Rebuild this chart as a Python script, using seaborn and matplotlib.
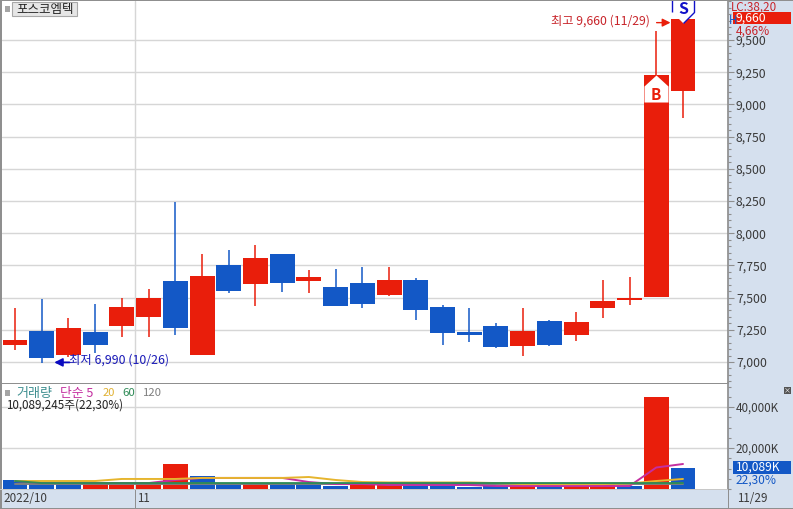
import matplotlib
matplotlib.use("Agg")
import matplotlib.pyplot as plt
from matplotlib.patches import Rectangle
from matplotlib.ticker import FixedLocator, FuncFormatter, MultipleLocator
import numpy as np
import seaborn as sns

W, H = 793, 509

# daily prices
opens = [7130, 7240, 7055, 7235, 7280, 7350, 7630, 7055, 7755, 7605, 7840, 7630, 7580,
         7615, 7520, 7635, 7425, 7235, 7280, 7125, 7320, 7210, 7420, 7480, 7505, 9105]
highs = [7420, 7490, 7340, 7450, 7495, 7565, 8240, 7840, 7870, 7910, 7840, 7715, 7720,
         7735, 7735, 7650, 7440, 7420, 7300, 7420, 7330, 7390, 7635, 7660, 9570, 9660]
lows = [7090, 6990, 7040, 7070, 7195, 7195, 7210, 7055, 7535, 7435, 7545, 7535, 7435,
        7420, 7510, 7325, 7130, 7155, 7110, 7045, 7125, 7165, 7340, 7440, 7505, 8895]
closes = [7170, 7030, 7265, 7130, 7425, 7495, 7265, 7670, 7550, 7805, 7615, 7660, 7435,
          7450, 7635, 7405, 7225, 7210, 7115, 7240, 7130, 7310, 7475, 7495, 9230, 9660]

# volume in thousands of shares
volumes = [4400, 2900, 2900, 2900, 2000, 2400, 12200, 6300, 2500, 2400, 2400, 2400, 1500,
           2000, 2400, 1500, 1500, 1000, 1500, 1500, 1500, 1500, 2000, 1500, 44900, 10089]
volume_up = [0, 0, 0, 1, 1, 1, 1, 0, 0, 1, 0, 0, 0, 1, 1, 0, 0, 0, 0, 1, 0, 1, 1, 0, 1, 0]

ma5 = [3900, 2900, 2900, 2900, 2900, 2900, 4400, 5400, 5400, 5400, 5400, 3400, 2400,
       2400, 1950, 1950, 1950, 1950, 1460, 1460, 1460, 1460, 1460, 1460, 10500, 12200]
ma20 = [3900, 3900, 3900, 3900, 4900, 4900, 4900, 5400, 5400, 5400, 5400, 5850, 4400,
        3400, 3200, 3200, 3200, 3200, 2900, 2400, 2400, 2400, 2400, 2700, 3900, 4900]
ma60 = [3900, 2900, 2900, 2900, 2900, 2900, 2900, 2900, 2900, 2900, 2900, 2900, 2900,
        2900, 2900, 2900, 2900, 2900, 2900, 2900, 2900, 2900, 2900, 2900, 2900, 2900]
ma120 = [2500, 2500, 2500, 2500, 2500, 2500, 2500, 2500, 2500, 2500, 2500, 2500, 2500,
         2500, 2500, 2500, 2500, 2500, 2500, 2500, 2500, 2500, 2500, 2500, 2500, 2500]

price_ticks = [7000, 7250, 7500, 7750, 8000, 8250, 8500, 8750, 9000, 9250, 9500]
volume_ticks = [20000, 40000]

RED = "#E91E0B"
BLUE = "#1358C6"
PANEL = "#D5E0EE"
BORDER = "#8F8F8F"
GRID = "#D6D6D6"
TICK_TEXT = "#3A3A3A"

sns.set_theme(style="white")
plt.rcParams["font.family"] = ["Noto Sans CJK KR", "DejaVu Sans"]


def frame(x0, y0, x1, y1):
    # pixel box (from the top left) to figure fractions
    return [x0 / W, 1 - y1 / H, (x1 - x0) / W, (y1 - y0) / H]


def label(x, y, s, color=TICK_TEXT, size=8.4, **kw):
    kw.setdefault("ha", "left")
    return fig.text(x / W, 1 - y / H, s, color=color, fontsize=size, va="center", **kw)


def box(x0, y0, x1, y1, color, z=-1):
    fig.add_artist(Rectangle((x0 / W, 1 - y1 / H), (x1 - x0) / W, (y1 - y0) / H,
                             transform=fig.transFigure, facecolor=color,
                             edgecolor="none", zorder=z))


def bars(ax, xs, heights, color, bottom=None):
    kw = {} if bottom is None else {"bottom": bottom}
    sns.barplot(x=xs, y=heights, ax=ax, native_scale=True, color=color, saturation=1,
                width=0.935, errorbar=None, linewidth=0, **kw)


fig = plt.figure(figsize=(W / 100, H / 100), dpi=100, facecolor="white")
box(728, 0, W, H, PANEL)
box(0, 489, W, H, PANEL)

ax = fig.add_axes(frame(2, 1, 728, 383))
vol = fig.add_axes(frame(2, 383, 728, 489))

idx = np.arange(len(opens))
o, c, hi, lo = map(np.array, (opens, closes, highs, lows))
up = c >= o

# candles
ax.vlines(idx[up], lo[up], hi[up], color=RED, lw=1.1, zorder=3)
ax.vlines(idx[~up], lo[~up], hi[~up], color=BLUE, lw=1.1, zorder=3)
bars(ax, idx[up], (c - o)[up], RED, bottom=o[up])
bars(ax, idx[~up], (o - c)[~up], BLUE, bottom=c[~up])
for p in ax.patches:
    p.set_zorder(4)

# volume bars and averages
v = np.array(volumes)
vup = np.array(volume_up, dtype=bool)
bars(vol, idx[vup], v[vup], RED)
bars(vol, idx[~vup], v[~vup], BLUE)
for p in vol.patches:
    p.set_zorder(3)
for series, col, z in [(ma120, "#7F7F7F", 5), (ma5, "#C42FA0", 6), (ma20, "#E6B52E", 7),
                       (ma60, "#2F8B57", 8)]:
    sns.lineplot(x=idx, y=series, ax=vol, color=col, lw=1.4, errorbar=None, zorder=z)

xlim = ((2 - 15) / 26.72, (728 - 15) / 26.72)
for a in (ax, vol):
    a.set_xlim(*xlim)
    a.set_xlabel("")
    a.set_ylabel("")
    a.set_xticks([])
    a.axvline(4.5, color=GRID, lw=1, zorder=1)
    a.yaxis.tick_right()
    a.grid(False)
    a.yaxis.grid(True, which="major", color=GRID, lw=1, zorder=0)
    a.set_axisbelow(True)
    for s in a.spines.values():
        s.set_visible(False)
    a.spines["right"].set_visible(True)
    a.spines["right"].set_color(BORDER)
    a.tick_params(axis="y", which="major", direction="out", length=4.5, width=0.8, color=BORDER,
                  labelsize=8.8, labelcolor=TICK_TEXT, pad=1.2, right=True)
    a.tick_params(axis="y", which="minor", direction="out", length=2.5, width=0.8, color=BORDER,
                  right=True)

ax.set_ylim(6837, 9803)
ax.yaxis.set_major_locator(FixedLocator(price_ticks))
ax.yaxis.set_minor_locator(MultipleLocator(50))
ax.yaxis.set_major_formatter(FuncFormatter(lambda x, _: f"{x:,.0f}"))

vol.set_ylim(0, 51728)
vol.yaxis.set_major_locator(FixedLocator(volume_ticks))
vol.yaxis.set_minor_locator(MultipleLocator(5000))
vol.yaxis.set_major_formatter(FuncFormatter(lambda x, _: f"{x / 1000:,.0f},000K"))
vol.tick_params(axis="y", which="major", labelsize=8.4)

# buy and sell flags, anchored on the last two candles
buy = [(0, 0), (12, -11), (12, -27), (-12, -27), (-12, -11)]
sell = [(0, -4), (11, 7), (11, 20), (-11, 20), (-11, 7)]
ax.plot([24], [closes[24]], marker=buy, ms=38.9, mfc="white", mec="white", mew=0, ls="", zorder=6)
ax.plot([25], [closes[25]], marker=sell, ms=28.8, mfc="white", mec="#1010C8", mew=1, ls="",
        zorder=6, clip_on=False)
ax.annotate("B", (24, closes[24]), xytext=(0, -14.5), textcoords="offset points", ha="center",
            va="center", color=RED, fontsize=11, fontweight="bold", zorder=7)
ax.annotate("S", (25, closes[25]), xytext=(0, 7.5), textcoords="offset points", ha="center",
            va="center", color="#1010C8", fontsize=11.5, fontweight="bold", zorder=7,
            annotation_clip=False)

# high and low callouts
ax.annotate("", (25, 9635), xytext=(-19, 0), textcoords="offset points", zorder=7,
            arrowprops=dict(arrowstyle="-|>", color=RED, lw=1, shrinkA=0, shrinkB=9,
                            mutation_scale=12))
ax.annotate("", (1, 6997), xytext=(20, 0), textcoords="offset points", zorder=7,
            arrowprops=dict(arrowstyle="-|>", color="#0A0AC0", lw=1.3, shrinkA=0, shrinkB=9,
                            mutation_scale=12))
label(551, 21, "최고 9,660 (11/29)", color="#C8242A", size=8.8)
label(69, 360, "최저 6,990 (10/26)", color="#1A1AB8", size=8.9)

# frame lines
box(0, 0, W, 1, BORDER, z=2)
box(0, 0, 2, H, BORDER, z=2)
box(0, 383, 728, 384, BORDER, z=2)
box(0, 489, 728, 490, "#C8C8C8", z=2)
box(0, 508, W, 509, BORDER, z=2)
box(728, 489, 729, H, BORDER, z=2)
box(135, 490, 136, 508, BORDER, z=2)

# header tags
box(5, 6, 10, 12, "#A5A5A5", z=2)
fig.add_artist(Rectangle((12 / W, 1 - 16 / H), 65 / W, 14 / H, transform=fig.transFigure,
                         facecolor="#E6E6E6", edgecolor="#A8A8A8", lw=0.8, zorder=2))
label(16, 9, "포스코엠텍", color="#222222", size=9)

box(5, 390, 10, 396, "#A5A5A5", z=2)
label(16, 393, "거래량", color="#3F8F90", size=9.4)
label(60, 393, "단순 5", color="#C42FA0", size=9.2)
label(103, 393, "20", color="#E0B030", size=8)
label(122, 393, "60", color="#2F8B57", size=8.2)
label(143, 393, "120", color="#7F7F7F", size=8.2)
label(6, 405, "10,089,245주(22,30%)", color="#222222")

# right side readouts
label(731, 7, "LC:38,20", color="#C8242A", size=8.4)
label(728.5, 20, "H", color=BLUE, size=8.4)
box(733, 12, 791, 24, RED, z=2)
label(736, 18, "9,660", color="white", size=8.8, zorder=4)
box(733, 25, 775, 36, PANEL, z=2)
label(736, 31, "4,66%", color="#C8242A", size=8.6, zorder=4)

box(733, 461, 791, 474, BLUE, z=2)
label(736, 467, "10,089K", color="white", size=8.6, zorder=4)
label(736, 480, "22,30%", color=BLUE, size=8.6)
box(784, 387, 791, 394, "#555555", z=2)
label(787.5, 390.5, "×", color="white", size=5, ha="center", zorder=4)

# date strip
label(3, 498, "2022/10", color=TICK_TEXT, size=8.4)
label(137, 498, "11", color=TICK_TEXT, size=8.4)
label(737, 498, "11/29", color=TICK_TEXT, size=8.4)

fig.savefig("out.png", dpi=100)
plt.close(fig)
